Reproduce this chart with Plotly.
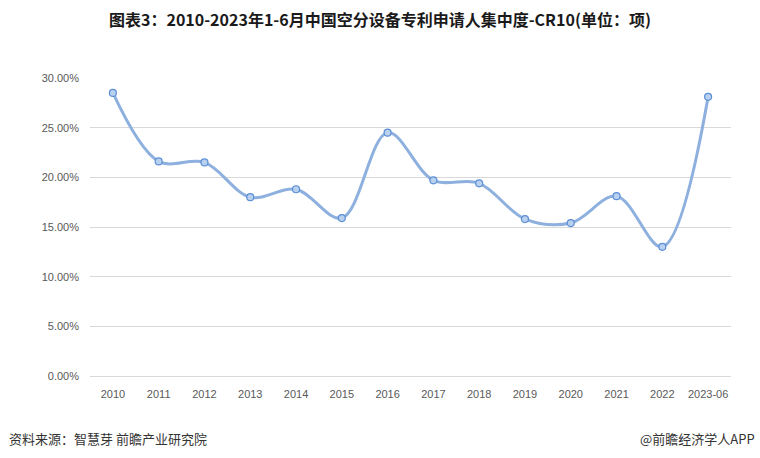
import plotly.graph_objects as go

categories = ["2010", "2011", "2012", "2013", "2014", "2015", "2016",
              "2017", "2018", "2019", "2020", "2021", "2022", "2023-06"]
cr10 = [0.285, 0.216, 0.215, 0.180, 0.188, 0.159, 0.245,
        0.197, 0.194, 0.158, 0.154, 0.181, 0.130, 0.281]
y_ticks = [0, 0.05, 0.10, 0.15, 0.20, 0.25, 0.30]

title = "图表3：2010-2023年1-6月中国空分设备专利申请人集中度-CR10(单位：项)"
source = "资料来源：智慧芽 前瞻产业研究院"
brand = "@前瞻经济学人APP"

fig = go.Figure()
fig.add_trace(go.Scatter(
    x=categories, y=cr10, mode="lines+markers",
    line=dict(color="#8eb0de", width=3, shape="spline", smoothing=1.0),
    marker=dict(symbol="circle", size=7, color="#b9d0ee",
                line=dict(color="#5b8fd6", width=1.2)),
    showlegend=False,
))

fig.update_layout(
    width=760, height=458,
    margin=dict(l=90, r=29, t=78, b=82),
    paper_bgcolor="white", plot_bgcolor="white",
    font=dict(family="Noto Sans CJK SC, Noto Sans, sans-serif", color="#595959"),
    title=dict(text="<b>" + title + "</b>", x=0.5, xanchor="center",
               y=1 - 20 / 458, yanchor="middle",
               font=dict(size=16, color="#1a1a1a",
                         family="Noto Sans CJK SC, sans-serif")),
    xaxis=dict(type="category", range=[-0.5, 13.5], showgrid=False,
               showline=False, ticks="", zeroline=False, ticklabelstandoff=10,
               tickfont=dict(size=11, color="#595959",
                             family="Liberation Sans Narrow, Liberation Sans, sans-serif")),
    yaxis=dict(range=[0, 0.30], tickvals=y_ticks, tickformat=".2%",
               showgrid=True, gridcolor="#d9d9d9", gridwidth=1,
               zeroline=True, zerolinecolor="#d9d9d9", zerolinewidth=1,
               showline=False, ticks="", ticklen=0, ticklabelstandoff=10,
               tickfont=dict(size=11, color="#595959",
                             family="Liberation Sans, sans-serif")),
)

fig.add_annotation(text=source, xref="paper", yref="paper",
                   x=-83 / 641, y=-(438 - 376) / 298, xanchor="left", yanchor="middle",
                   showarrow=False,
                   font=dict(size=13, color="#333333", family="Noto Sans CJK SC, sans-serif"))
fig.add_annotation(text=brand, xref="paper", yref="paper",
                   x=(757 - 90) / 641, y=-(438 - 376) / 298, xanchor="right", yanchor="middle",
                   showarrow=False,
                   font=dict(size=13, color="#333333", family="Noto Sans CJK SC, sans-serif"))

fig.write_html("out.html", config={"displayModeBar": False},
               post_script="document.body.style.margin='0';")
